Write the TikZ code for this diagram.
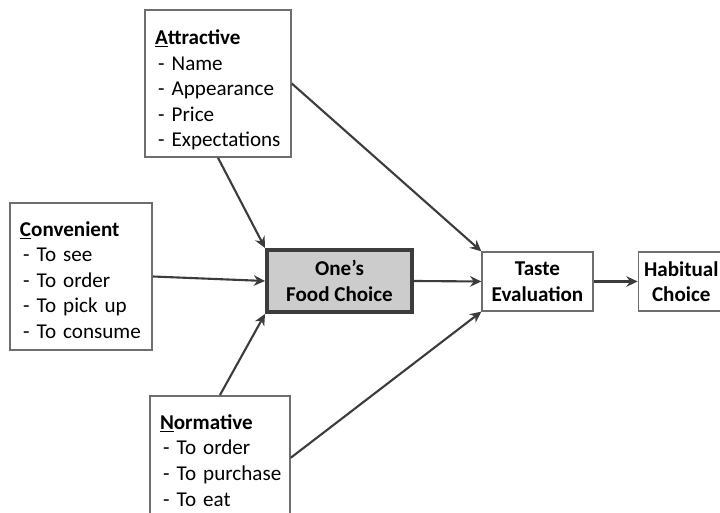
\documentclass[tikz,border=0pt]{standalone}
\usepackage{fontspec}
\setmainfont{Carlito}
\usepackage{tikz}
\usetikzlibrary{positioning}
\usetikzlibrary{calc}
\usetikzlibrary{arrows.meta}

\definecolor{boxline}{RGB}{110,110,110}
\definecolor{arrowline}{RGB}{60,60,60}
\definecolor{choicefill}{RGB}{204,204,204}

\newcommand{\factorhead}[2]{\rule{0pt}{#2}\textbf{\underline{#1}}}
\newcommand{\factoritem}[1]{\\\hspace*{0.08cm}\mbox{- #1}}

\begin{document}
\begin{tikzpicture}
		[
			factor/.style = {rectangle, draw = boxline, line width = 1.1pt, fill = white, align = left, inner xsep = 0.25cm, inner ysep = 0cm, font = \fontsize{15pt}{18.2pt}\selectfont},
			choice/.style = {rectangle, draw = arrowline, line width = 2.8pt, fill = choicefill, align = center, font = \fontsize{15pt}{18.2pt}\selectfont\bfseries, minimum width = 3.625cm, minimum height = 1.55cm},
			stage/.style = {rectangle, draw = boxline, line width = 0.9pt, fill = white, align = center, font = \fontsize{15pt}{18.2pt}\selectfont\bfseries, minimum height = 1.475cm},
			link/.style = {line width = 1.5pt, draw = arrowline, -{Stealth[length = 8pt, width = 7.5pt]}},
		]
			%
			\clip (0,0) rectangle (18,12.825);
			\useasboundingbox (0,0) rectangle (18,12.825);
			%
			\node (attractive) [factor, text width = 3.15cm, minimum height = 3.675cm] at (5.45,10.7375)
				{\factorhead{A}{0.7cm}\textbf{ttractive}\factoritem{Name}\factoritem{Appearance}\factoritem{Price}\factoritem{Expectations}};
			\node (convenient) [factor, text width = 3.05cm, minimum height = 3.675cm] at (2.025,5.9125)
				{\factorhead{C}{0.55cm}\textbf{onvenient}\factoritem{To see}\factoritem{To order}\factoritem{To pick up}\factoritem{To consume}};
			\node (normative) [factor, text width = 3.0cm, minimum height = 3.1cm, anchor = north] at (5.5,2.95)
				{\factorhead{N}{0.5cm}\textbf{ormative}\factoritem{To order}\factoritem{To purchase}\factoritem{To eat}};
			%
			\node (food) [choice] at (8.4875,5.8) {One’s\\Food Choice};
			\node (taste) [stage, minimum width = 2.775cm] at (13.4375,5.7875) {Taste\\Evaluation};
			\node (habit) [stage, minimum width = 2.15cm, right = 1.1cm of taste] {Habitual\\Choice};
			%
			\draw [link] (attractive.south) -- (food.north west);
			\draw [link] (convenient.east) -- (food.west);
			\draw [link] (normative.north) -- (food.south west);
			%
			\draw [link] (attractive.east) -- (taste.north west);
			\draw [link] (normative.east) -- (taste.south west);
			\draw [link] (food.east) -- (taste.west);
			\draw [link] (taste.east) -- (habit.west);
			%
		\end{tikzpicture}
\end{document}
